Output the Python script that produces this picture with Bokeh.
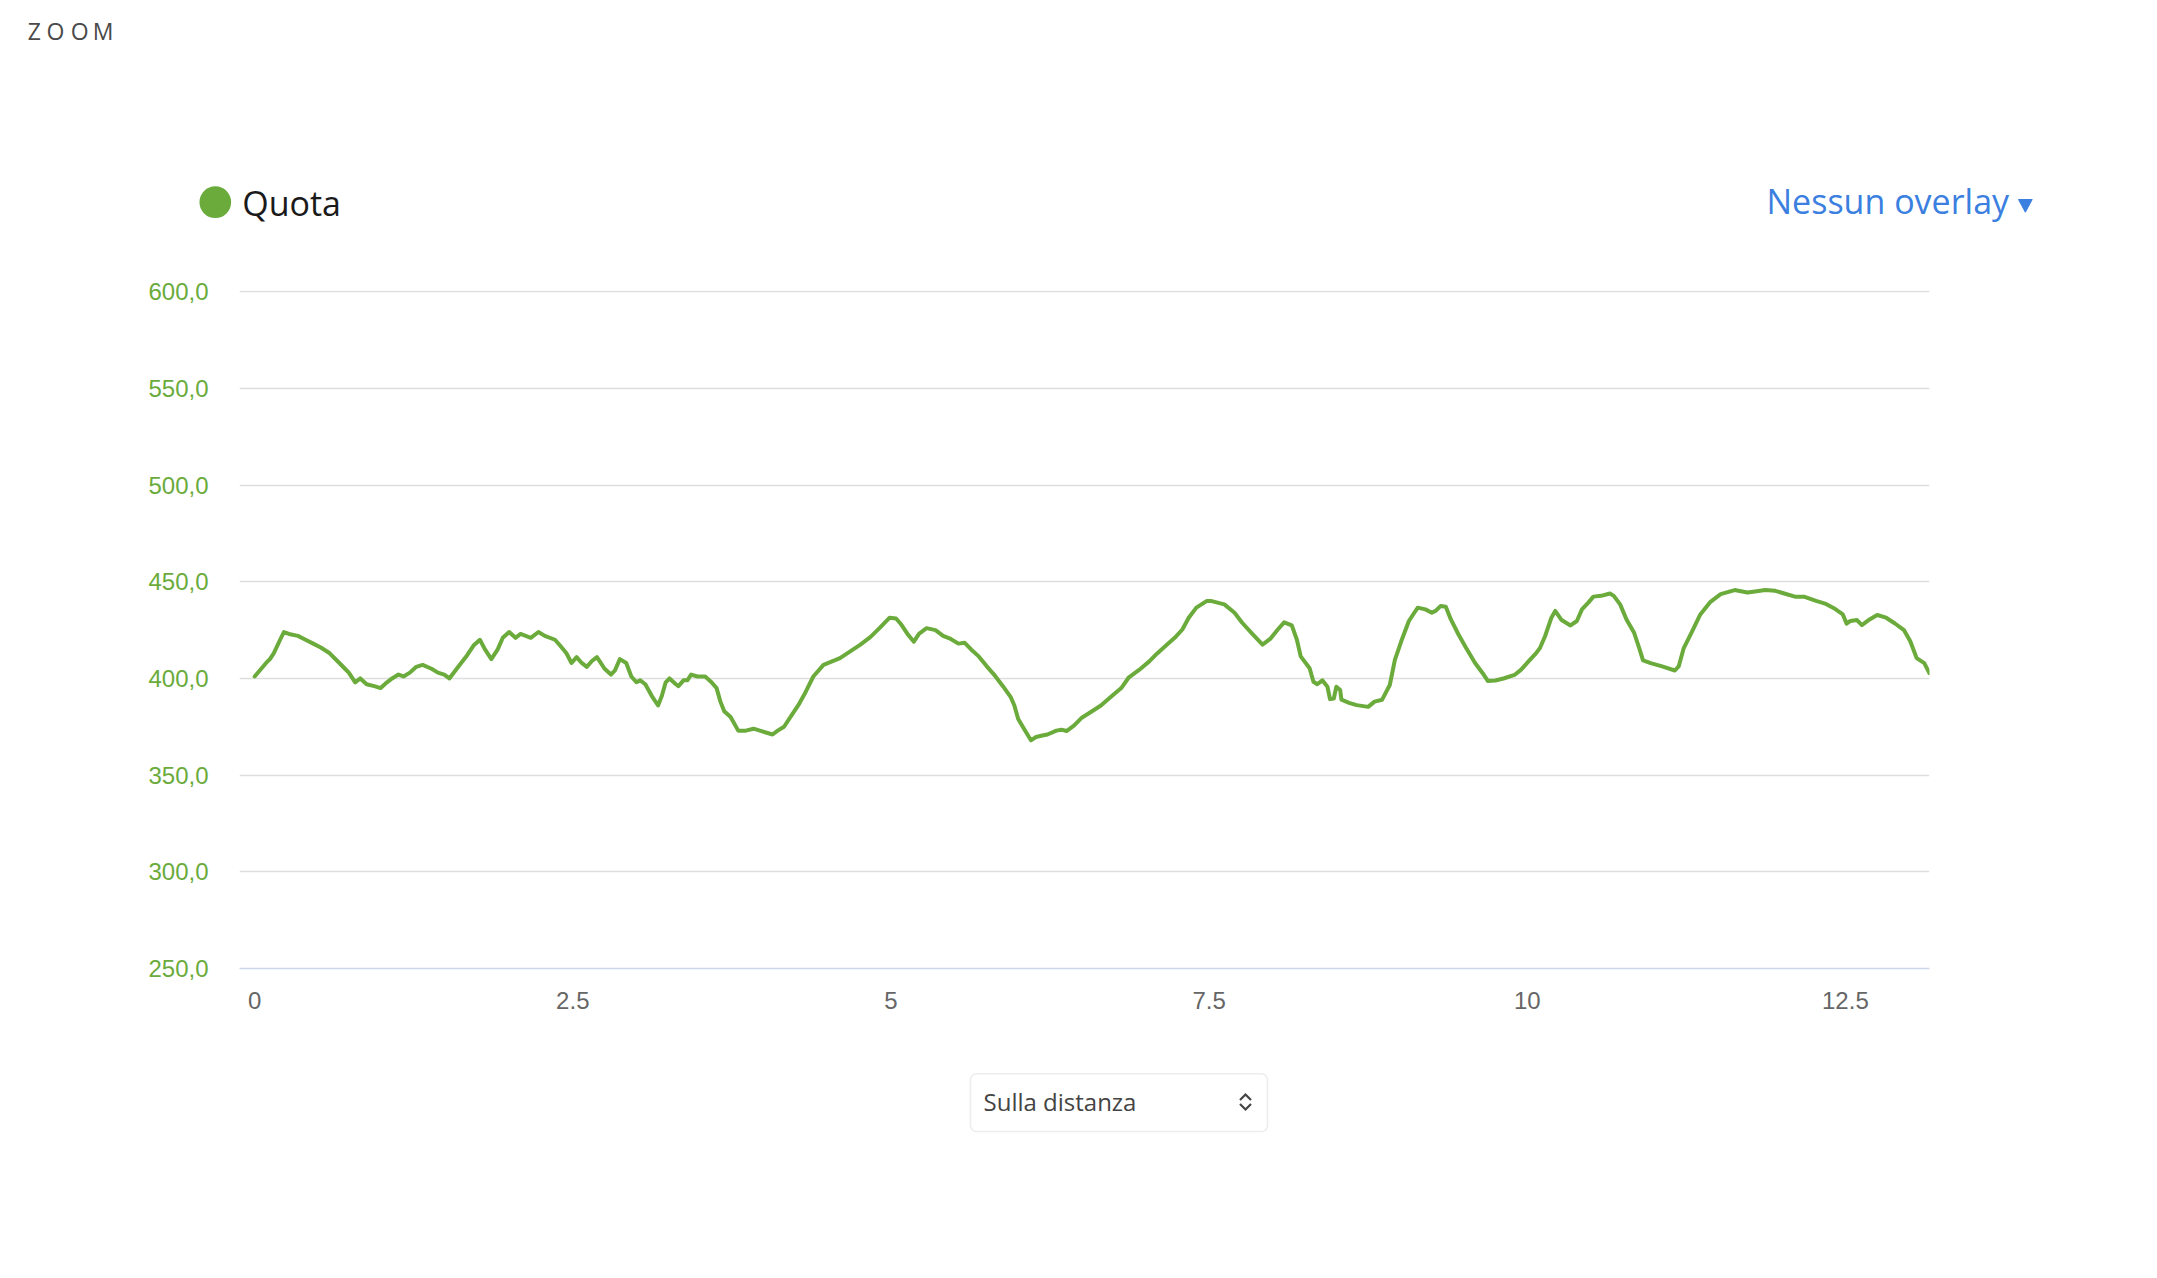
from bokeh.plotting import figure
from bokeh.layouts import column
from bokeh.models import BoxAnnotation, FixedTicker, Range1d
from bokeh.core.properties import value
from bokeh.embed import file_html
from bokeh.resources import INLINE

# ---------------- data ----------------
distance_km = [
    0.00, 0.09, 0.12, 0.15, 0.20, 0.23, 0.27, 0.34, 0.40, 0.46, 0.52, 0.59, 0.65, 0.71, 0.74,
    0.79, 0.83, 0.88, 0.94, 0.99, 1.04, 1.08, 1.13, 1.17, 1.22, 1.27, 1.32, 1.39, 1.44, 1.49,
    1.53, 1.60, 1.67, 1.72, 1.77, 1.81, 1.86, 1.91, 1.95, 2.00, 2.05, 2.09, 2.13, 2.17, 2.23,
    2.28, 2.36, 2.40, 2.45, 2.49, 2.53, 2.57, 2.61, 2.65, 2.69, 2.75, 2.80, 2.83, 2.87, 2.92,
    2.96, 3.00, 3.03, 3.07, 3.12, 3.17, 3.20, 3.23, 3.26, 3.31, 3.33, 3.37, 3.40, 3.43, 3.48,
    3.54, 3.59, 3.63, 3.66, 3.69, 3.74, 3.80, 3.86, 3.92, 3.97, 4.07, 4.11, 4.16, 4.22, 4.28,
    4.33, 4.39, 4.47,
    4.60, 4.68, 4.76, 4.84, 4.91, 4.99, 5.04, 5.08, 5.13, 5.18, 5.22, 5.28, 5.35, 5.41, 5.47,
    5.53, 5.58, 5.63, 5.69, 5.75, 5.81, 5.88, 5.94, 5.97, 6.00, 6.05, 6.10, 6.14, 6.19, 6.23,
    6.30, 6.34, 6.38, 6.44, 6.50, 6.58, 6.65, 6.72, 6.81, 6.87, 6.95, 7.03, 7.09, 7.17, 7.23,
    7.29, 7.34, 7.40, 7.48, 7.52, 7.62, 7.70, 7.76, 7.84, 7.92, 7.98, 8.04, 8.09, 8.15, 8.19,
    8.22, 8.29, 8.32, 8.35, 8.39, 8.43, 8.45, 8.48, 8.50, 8.53, 8.54, 8.60, 8.66, 8.75, 8.80,
    8.86, 8.92,
    8.96, 9.01, 9.07, 9.11, 9.14, 9.20, 9.25, 9.28, 9.32, 9.36, 9.40, 9.46, 9.52, 9.59, 9.65,
    9.69, 9.75, 9.82, 9.90, 9.95, 10.01, 10.07, 10.10, 10.14, 10.19, 10.22, 10.27, 10.34, 10.39,
    10.43, 10.48, 10.52, 10.58, 10.65, 10.68, 10.73, 10.78, 10.84, 10.88, 10.91, 10.97, 11.06,
    11.16, 11.19, 11.23, 11.29, 11.36, 11.44, 11.52, 11.63, 11.73, 11.79, 11.87, 11.95, 12.02,
    12.11, 12.18, 12.27, 12.34, 12.41, 12.48, 12.51, 12.54, 12.59, 12.63, 12.69, 12.75, 12.82,
    12.89, 12.96, 13.01, 13.06, 13.12, 13.16,
]
elevation_m = [
    401, 408, 410, 413, 420, 424, 423, 422, 420, 418, 416, 413, 409, 405, 403,
    398, 400, 397, 396, 395, 398, 400, 402, 401, 403, 406, 407, 405, 403, 402,
    400, 406, 412, 417, 420, 415, 410, 415, 421, 424, 421, 423, 422, 421, 424,
    422, 420, 417, 413, 408, 411, 408, 406, 409, 411, 405, 402, 404, 410, 408,
    401, 398, 399, 397, 391, 386, 391, 398, 400, 397, 396, 399, 399, 402, 401,
    401, 398, 395, 388, 383, 380, 373, 373, 374, 373, 371, 373, 375, 381, 387,
    393, 401, 407,
    410.5, 414, 417.5, 421.5, 426, 431.4, 431, 428, 423, 419, 423, 426, 425, 422, 420.4,
    418, 418.4, 415, 411.4, 406.5, 402, 396, 390.5, 386, 379, 373.5, 368, 369.7, 370.5, 371,
    373, 373.5, 372.8, 375.7, 379.7, 383, 386, 390, 395, 400.6, 404.4, 408.8, 412.8, 417.5, 421,
    425.3, 431.4, 436.6, 440, 440, 438.3, 434, 428.8, 423, 417.5, 420.4, 425.3, 429, 427.4, 420,
    411.4, 405.3, 398.3, 397, 399, 395.7, 389.3, 389.6, 395.7, 394, 389, 387.4, 386.2, 385.3, 388,
    389, 396.6,
    409.6, 419.2, 429.7, 433.7, 436.6, 435.7, 434, 434.9, 437.5, 437.1, 430.5, 422.7, 415.7, 408, 402.7,
    398.7, 398.9, 400.1, 401.8, 404.4, 408.8, 413.1, 415.7, 421.8, 431.4, 434.9, 430.2, 427.4, 429.7,
    435.7, 439.2, 442.3, 442.7, 443.9, 442.7, 438.3, 430.5, 423.6, 415.7, 409.3, 407.9, 406.2,
    404.1, 406.2, 415.7, 423.6, 433.1, 439.6, 443.6, 445.7, 444.4, 445, 445.7, 445.3, 443.9,
    442.2, 442.2, 440.1, 438.7, 436.3, 433.1, 428.3, 429.7, 430.2, 427.6, 430.5, 432.8, 431.4,
    428.4, 425, 419.2, 410.5, 407.9, 402.7,
]
y_ticks = [250, 300, 350, 400, 450, 500, 550, 600]
y_tick_labels = ["250,0", "300,0", "350,0", "400,0", "450,0", "500,0", "550,0", "600,0"]
x_ticks = [0, 2.5, 5, 7.5, 10, 12.5]
x_tick_labels = ["0", "2.5", "5", "7.5", "10", "12.5"]
title_letters = list("ZOOM")
series_name = "Quota"
overlay_text = "Nessun overlay"
selector_text = "Sulla distanza"

# ---------------- styling ----------------
GREEN = "#6aab3c"
BLUE = "#3b7fe0"
W = 2157
TOP_H, MAIN_H, BOT_H = 250, 800, 226


def deco_figure(h):
    f = figure(width=W, height=h, x_range=Range1d(0, W), y_range=Range1d(h, 0),
               output_backend="svg", toolbar_location=None, min_border=0,
               x_axis_location=None, y_axis_location=None, frame_align=False)
    f.grid.visible = False
    f.outline_line_color = None
    f.background_fill_color = "white"
    f.border_fill_color = "white"
    return f


# ---------------- header (title, legend, overlay selector) ----------------
top = deco_figure(TOP_H)
top.text(x=[33.8, 55.0, 79.2, 102.5], y=[30.5, 30.5, 30.5, 30.5], text=title_letters,
         text_font=value("Open Sans"), text_font_size=value("23px"), text_color="#4a4a4a",
         text_align="center", text_baseline="alphabetic")
top.scatter(x=[214.8], y=[201.7], size=31.7, marker="circle", fill_color=GREEN, line_color=None)
top.text(x=[241.7], y=[202.2], text=[series_name], text_font=value("Open Sans"),
         text_font_size=value("34px"), text_color="#1a1a1a", text_baseline="alphabetic")
top.text(x=[1766], y=[200.5], text=[overlay_text], text_font=value("Open Sans"),
         text_font_size=value("34px"), text_color=BLUE, text_baseline="alphabetic")
top.patch(x=[2018, 2031.7, 2024.85], y=[199, 199, 211.7], fill_color=BLUE, line_color=BLUE, line_width=1)

# ---------------- main chart ----------------
FL, FR, FT, FH = 239, 228, 40, 678
p = figure(width=W, height=MAIN_H, x_range=Range1d(-0.119, 13.161), y_range=Range1d(250, 600.6),
           output_backend="svg", toolbar_location=None, frame_align=False,
           min_border_left=FL, min_border_right=FR,
           min_border_top=FT, min_border_bottom=MAIN_H - FT - FH)
p.outline_line_color = None
p.background_fill_color = "white"
p.border_fill_color = "white"

p.line(distance_km, elevation_m, line_width=4, line_color=GREEN, line_join="round", line_cap="round")

p.yaxis.ticker = FixedTicker(ticks=y_ticks)
p.yaxis.major_label_overrides = {t: l for t, l in zip(y_ticks, y_tick_labels)}
p.yaxis.axis_line_color = None
p.yaxis.major_tick_line_color = None
p.yaxis.minor_tick_line_color = None
p.yaxis.major_label_standoff = 25
p.yaxis.major_label_text_font = "Liberation Sans"
p.yaxis.major_label_text_font_size = "24px"
p.yaxis.major_label_text_color = GREEN

p.xaxis.ticker = FixedTicker(ticks=x_ticks)
p.xaxis.major_label_overrides = {t: l for t, l in zip(x_ticks, x_tick_labels)}
p.xaxis.axis_line_color = "#ccd6eb"
p.xaxis.axis_line_width = 1.5
p.xaxis.major_tick_line_color = None
p.xaxis.minor_tick_line_color = None
p.xaxis.major_label_standoff = 17
p.xaxis.major_label_text_font = "Liberation Sans"
p.xaxis.major_label_text_font_size = "24px"
p.xaxis.major_label_text_color = "#666666"

p.xgrid.grid_line_color = None
p.ygrid.ticker = FixedTicker(ticks=y_ticks)
p.ygrid.grid_line_color = "#dedede"
p.ygrid.grid_line_width = 1.5

# ---------------- bottom selector ----------------
bot = deco_figure(BOT_H)
bot.add_layout(BoxAnnotation(left=970, right=1267, top=23.3, bottom=81, border_radius=6,
                             fill_alpha=0, line_color="#c4c4c4", line_width=1.6))
bot.text(x=[983], y=[51], text=[selector_text], text_font=value("Open Sans"),
         text_font_size=value("24px"), text_color="#444444", text_baseline="alphabetic")
bot.multi_line(xs=[[1239.5, 1245, 1250.5], [1239.5, 1245, 1250.5]],
               ys=[[49.5, 44, 49.5], [53.5, 59, 53.5]],
               line_color="#444444", line_width=2.2, line_join="miter", line_cap="butt")

layout = column(top, p, bot, spacing=0)
open("out.html", "w").write(file_html(layout, INLINE))
